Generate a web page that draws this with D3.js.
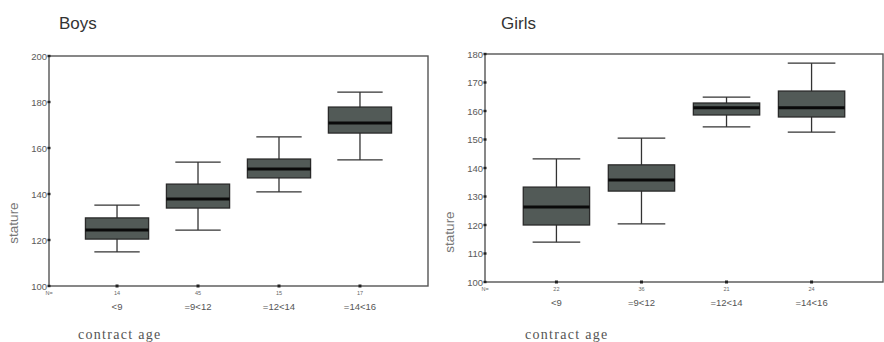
<!DOCTYPE html>
<html>
<head>
<meta charset="utf-8">
<script src="https://cdn.jsdelivr.net/npm/d3@7"></script>
<style>
  body { margin: 0; background: #fff; }
  svg { display: block; }
</style>
</head>
<body>
<svg id="chart" width="884" height="342"></svg>
<script>
const categories = ["<9", "=9<12", "=12<14", "=14<16"];

// boys: whisker low, q1, median, q3, whisker high
const boysN = [14, 45, 15, 17];
const boysLow = [114.8, 124.3, 140.9, 154.8];
const boysQ1 = [120.4, 133.9, 147.0, 166.5];
const boysMedian = [124.3, 137.8, 150.9, 170.9];
const boysQ3 = [129.6, 144.3, 155.2, 177.8];
const boysHigh = [135.2, 153.9, 164.8, 184.3];
const boysTicks = [100, 120, 140, 160, 180, 200];

const girlsN = [22, 36, 21, 24];
const girlsLow = [114.0, 120.4, 154.4, 152.6];
const girlsQ1 = [120.0, 131.9, 158.6, 157.9];
const girlsMedian = [126.3, 135.8, 161.1, 161.1];
const girlsQ3 = [133.3, 141.1, 162.8, 167.0];
const girlsHigh = [143.2, 150.5, 164.9, 176.8];
const girlsTicks = [100, 110, 120, 130, 140, 150, 160, 170, 180];

const svg = d3.select("#chart");

function panel(opt) {
  const g = svg.append("g");
  const y = d3.scaleLinear().domain(opt.domain).range([opt.bottom, opt.top]);
  const x = d3.scalePoint().domain(categories).range([opt.left, opt.right]).padding(0.84);
  const step = x.step();
  const boxW = step * 0.78, capW = step * 0.56;

  const rows = categories.map((c, i) => ({
    c, n: opt.n[i], low: opt.low[i], q1: opt.q1[i], med: opt.med[i], q3: opt.q3[i], high: opt.high[i]
  }));

  // title
  g.append("text").attr("x", opt.titleX).attr("y", 29)
    .attr("font-family", "Liberation Sans, Arial, sans-serif")
    .attr("font-size", 17).attr("fill", "#333").text(opt.title);

  // frame
  g.append("rect")
    .attr("x", opt.left).attr("y", y(opt.domain[1]))
    .attr("width", opt.right - opt.left).attr("height", y(opt.domain[0]) - y(opt.domain[1]))
    .attr("fill", "none").attr("stroke", "#555").attr("stroke-width", 1.4);

  // y ticks
  g.selectAll(".yt").data(opt.ticks).join("rect")
    .attr("x", opt.left - 1.5).attr("y", d => y(d) - 1.2)
    .attr("width", 3).attr("height", 2.4).attr("fill", "#222");
  g.selectAll(".yl").data(opt.ticks).join("text")
    .attr("x", opt.left - 2).attr("y", d => y(d) + 3.5)
    .attr("text-anchor", "end")
    .attr("font-family", "Liberation Sans, Arial, sans-serif")
    .attr("font-size", 9.5).attr("fill", "#5a5a5a")
    .text(d => d);

  // x ticks
  g.selectAll(".xt").data(categories).join("rect")
    .attr("x", d => x(d) - 1.5).attr("y", y(opt.domain[0]) - 1.5)
    .attr("width", 3).attr("height", 3).attr("fill", "#222");

  // N labels
  g.append("text").attr("x", opt.left).attr("y", y(opt.domain[0]) + 9)
    .attr("text-anchor", "middle")
    .attr("font-family", "Liberation Sans, Arial, sans-serif")
    .attr("font-size", 5.5).attr("fill", "#666").text("N=");
  g.selectAll(".nl").data(rows).join("text")
    .attr("x", d => x(d.c)).attr("y", y(opt.domain[0]) + 9)
    .attr("text-anchor", "middle")
    .attr("font-family", "Liberation Sans, Arial, sans-serif")
    .attr("font-size", 5.5).attr("fill", "#666").text(d => d.n);

  // category labels
  g.selectAll(".cl").data(categories).join("text")
    .attr("x", d => x(d)).attr("y", y(opt.domain[0]) + 24)
    .attr("text-anchor", "middle")
    .attr("font-family", "Liberation Sans, Arial, sans-serif")
    .attr("font-size", 9.5).attr("fill", "#555").text(d => d);

  // axis titles
  g.append("text")
    .attr("transform", `translate(${opt.left - 31},${opt.statureY}) rotate(-90)`)
    .attr("text-anchor", "middle")
    .attr("font-family", "Liberation Sans, Arial, sans-serif")
    .attr("font-size", 13.5).attr("fill", "#777").text("stature");
  g.append("text").attr("x", opt.xTitleX).attr("y", 339)
    .attr("font-family", "Liberation Serif, Times New Roman, serif")
    .attr("font-size", 14).attr("letter-spacing", 1.3).attr("fill", "#555").text("contract age");

  // boxes
  const b = g.selectAll(".box").data(rows).join("g");
  b.append("line")
    .attr("x1", d => x(d.c)).attr("x2", d => x(d.c))
    .attr("y1", d => y(d.high)).attr("y2", d => y(d.low))
    .attr("stroke", "#333").attr("stroke-width", 1.3);
  b.append("line")
    .attr("x1", d => x(d.c) - capW / 2).attr("x2", d => x(d.c) + capW / 2)
    .attr("y1", d => y(d.high)).attr("y2", d => y(d.high))
    .attr("stroke", "#333").attr("stroke-width", 1.3);
  b.append("line")
    .attr("x1", d => x(d.c) - capW / 2).attr("x2", d => x(d.c) + capW / 2)
    .attr("y1", d => y(d.low)).attr("y2", d => y(d.low))
    .attr("stroke", "#333").attr("stroke-width", 1.3);
  b.append("rect")
    .attr("x", d => x(d.c) - boxW / 2).attr("width", boxW)
    .attr("y", d => y(d.q3)).attr("height", d => y(d.q1) - y(d.q3))
    .attr("fill", "#525a57").attr("stroke", "#2a2a2a").attr("stroke-width", 1.3);
  b.append("line")
    .attr("x1", d => x(d.c) - boxW / 2).attr("x2", d => x(d.c) + boxW / 2)
    .attr("y1", d => y(d.med)).attr("y2", d => y(d.med))
    .attr("stroke", "#0a0a0a").attr("stroke-width", 3);
}

panel({
  title: "Boys", titleX: 59, xTitleX: 78, statureY: 223,
  left: 49, right: 428, top: 56, bottom: 286,
  domain: [100, 200], ticks: boysTicks,
  n: boysN, low: boysLow, q1: boysQ1, med: boysMedian, q3: boysQ3, high: boysHigh
});

panel({
  title: "Girls", titleX: 501, xTitleX: 525, statureY: 232,
  left: 485, right: 883, top: 54, bottom: 282,
  domain: [100, 180], ticks: girlsTicks,
  n: girlsN, low: girlsLow, q1: girlsQ1, med: girlsMedian, q3: girlsQ3, high: girlsHigh
});
</script>
</body>
</html>
